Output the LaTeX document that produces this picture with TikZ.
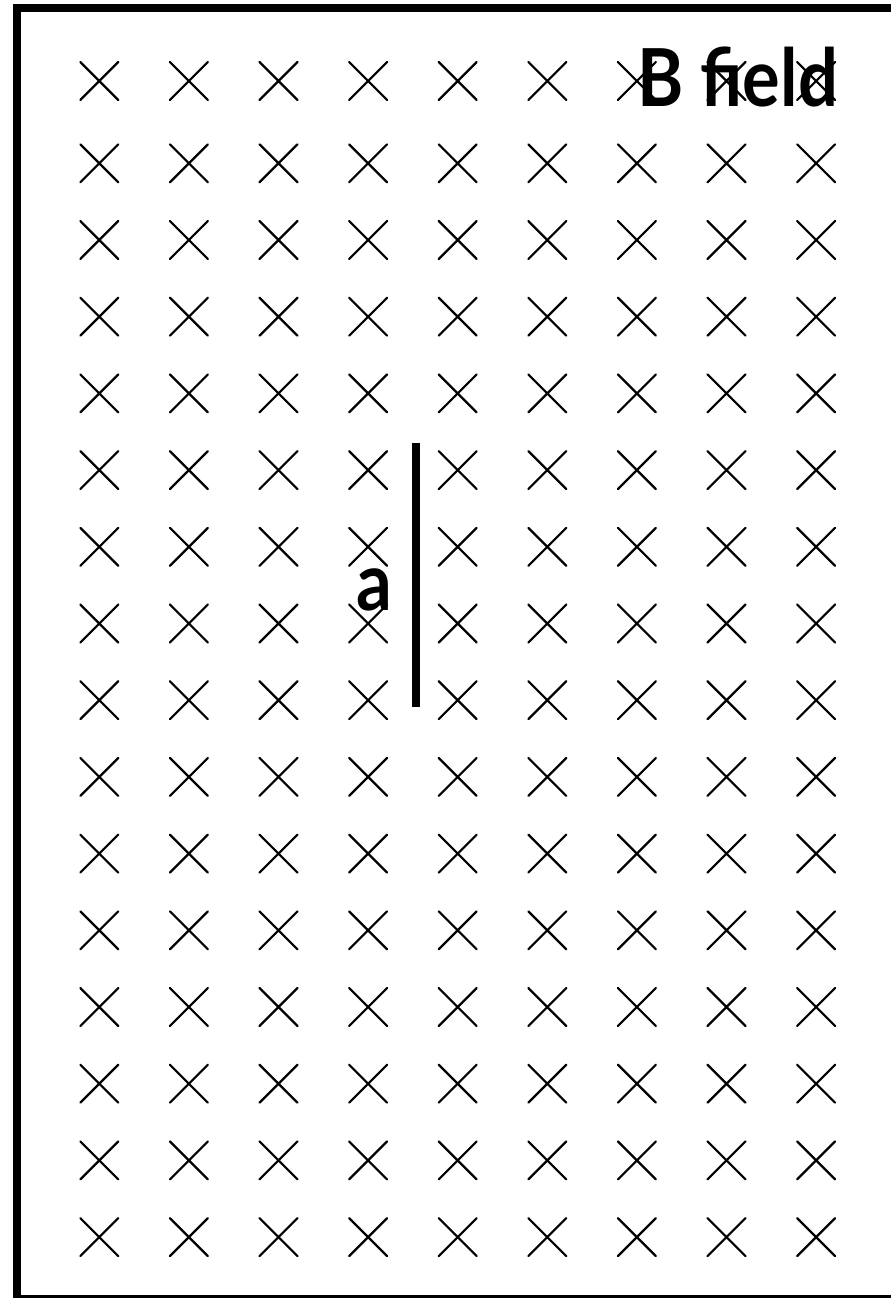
\documentclass[tikz,border=0pt]{standalone}
\usepackage{fontspec}
\setmainfont{Lato}
\newfontfamily\labelfont[FakeStretch=0.88]{Lato Bold}
\begin{document}
\begin{tikzpicture}[x=1pt,y=-1pt,
  crossmark/.style={line width=2.2pt,line cap=round},
  frame/.style={line width=8pt},
  wire/.style={line width=8pt},
  bigtext/.style={font=\labelfont\fontsize{80}{82}\selectfont,inner sep=0pt,anchor=base west}]
\useasboundingbox (0,0) rectangle (891,1298);
\draw[frame] (900,8) -- (17,8) -- (17,1299) -- (900,1299);
\node[bigtext] (title) at (637,106) {B field};
\foreach \c in {0,...,8}{
  \foreach \r in {0,...,15}{
    \pgfmathsetmacro{\xx}{99.3+89.6*\c}
    \pgfmathsetmacro{\yy}{\r==0 ? 81 : 163.3+76.7*(\r-1)}
    \draw[crossmark] (\xx-19,\yy-19) -- (\xx+19,\yy+19)
                     (\xx-19,\yy+19) -- (\xx+19,\yy-19);
  }
}
\coordinate (wtop) at (416,443);
\coordinate (wbot) at (416,707);
\draw[wire] (wtop) -- (wbot);
\node[bigtext] (alabel) at (356,610) {a};
\end{tikzpicture}
\end{document}
